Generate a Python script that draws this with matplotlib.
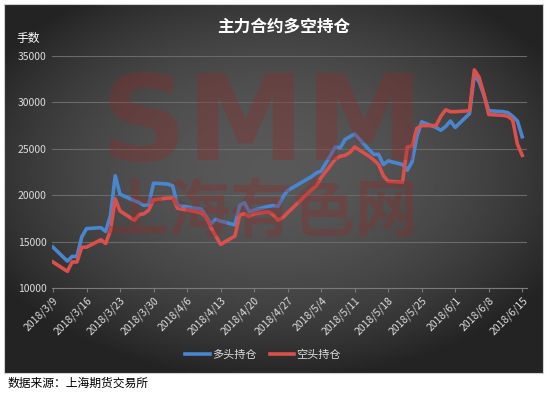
import numpy as np
import pandas as pd
import matplotlib
matplotlib.use("Agg")
import matplotlib.pyplot as plt

plt.rcParams['font.family'] = ['Noto Sans CJK SC', 'DejaVu Sans']

# trading days (2018)
dates = ["3/9", "3/12", "3/13", "3/14", "3/15", "3/16", "3/19", "3/20", "3/21", "3/22", "3/23",
         "3/26", "3/27", "3/28", "3/29", "3/30", "4/2", "4/3", "4/4", "4/9", "4/10", "4/11",
         "4/12", "4/13", "4/16", "4/17", "4/18", "4/19", "4/20", "4/23", "4/24", "4/25", "4/26",
         "4/27", "5/2", "5/3", "5/4", "5/7", "5/8", "5/9", "5/10", "5/11", "5/14", "5/15",
         "5/16", "5/17", "5/18", "5/21", "5/22", "5/23", "5/24", "5/25", "5/28", "5/29", "5/30",
         "5/31", "6/1", "6/4", "6/5", "6/6", "6/7", "6/8", "6/11", "6/12", "6/13", "6/14", "6/15"]

long_pos = [14400, 12900, 13400, 13400, 15500, 16400, 16500, 16100, 17800, 22100, 20100,
            19400, 19200, 18900, 19000, 21300, 21200, 21000, 18900, 18500, 17700, 16900,
            17400, 17200, 16800, 18900, 19200, 18200, 18400, 18800, 18900, 18800, 19800,
            20500, 22000, 22400, 22600, 25200, 25100, 26000, 26300, 26600, 24900, 24400,
            24400, 23300, 23700, 23300, 22700, 23600, 26300, 27900, 27300, 27000, 27400,
            28000, 27300, 28800, 33000, 32200, 30800, 29100, 29000, 28900, 28500, 28000, 26300]

short_pos = [12800, 11800, 12800, 12800, 14400, 14400, 15200, 14800, 16200, 19600, 18300,
             17300, 17900, 18000, 18400, 19500, 19700, 19700, 18600, 18100, 17600, 16500,
             15600, 14700, 15600, 17900, 18000, 17700, 18000, 18200, 17900, 17300, 17600,
             18100, 20600, 21000, 21900, 23900, 24200, 24300, 24600, 25200, 24200, 23800,
             23300, 22100, 21500, 21400, 25200, 25300, 27200, 27500, 27500, 28500, 29200,
             29000, 29000, 29100, 33500, 32700, 30900, 28700, 28600, 28500, 28100, 25500, 24300]

tick_labels = ["2018/3/9", "2018/3/16", "2018/3/23", "2018/3/30", "2018/4/6", "2018/4/13",
               "2018/4/20", "2018/4/27", "2018/5/4", "2018/5/11", "2018/5/18", "2018/5/25",
               "2018/6/1", "2018/6/8", "2018/6/15"]

x = pd.to_datetime(["2018/" + d for d in dates])
ticks = pd.to_datetime(tick_labels)

fig = plt.figure(figsize=(5.5, 3.95), dpi=100)
fig.patch.set_facecolor("white")

# dark panel with radial gradient
bg = fig.add_axes([4 / 550, 22 / 395, 539 / 550, 369 / 395])
gx, gy = np.meshgrid(np.linspace(-1, 1, 300), np.linspace(-1, 1, 200))
r2 = (gx * 0.95) ** 2 + ((gy + 0.1) * 1.0) ** 2
grad = np.clip(88 - 40 * r2, 35, 90)
bg.imshow(grad, cmap="gray", vmin=0, vmax=255, aspect="auto", extent=[0, 1, 0, 1])
bg.set_xticks([])
bg.set_yticks([])
for s in bg.spines.values():
    s.set_color("#d0d0d0")
    s.set_linewidth(0.8)

ax = fig.add_axes([52 / 550, 107 / 395, 475 / 550, 232 / 395])
ax.set_facecolor("none")
ax.plot(x, long_pos, color="#4a86d0", lw=2.6, label="多头持仓", zorder=3)
ax.plot(x, short_pos, color="#dc4f4a", lw=2.6, label="空头持仓", zorder=3)

ax.set_ylim(10000, 35000)
ax.set_yticks(range(10000, 35001, 5000))
ax.set_xlim(ticks[0] - pd.Timedelta(hours=5), ticks[-1] + pd.Timedelta(hours=24))
ax.set_xticks(ticks)
ax.set_xticklabels(tick_labels, rotation=45, ha="right", rotation_mode="anchor")
ax.grid(axis="y", color="#6a6a6a", lw=0.8)
ax.set_axisbelow(True)
for s in ["top", "right", "left"]:
    ax.spines[s].set_visible(False)
ax.spines["bottom"].set_color("#7a7a7a")
ax.tick_params(axis="y", length=0, colors="#dcdcdc", labelsize=7.5, pad=4)
ax.tick_params(axis="x", length=3, color="#7a7a7a", colors="#dcdcdc", labelsize=7.5, pad=2)

# watermark
wm = (0.58, 0.16, 0.16)
fig.text(262 / 550, 1 - 127 / 395, "SMM", color=wm, alpha=0.32,
         fontsize=86, fontweight="heavy", family="DejaVu Sans", ha="center", va="center", zorder=5)
fig.text(262 / 550, 1 - 212 / 395, "上海有色网", color=wm, alpha=0.32,
         fontsize=45, fontweight="bold", ha="center", va="center", zorder=5)

fig.text(284 / 550, 1 - 27 / 395, "主力合约多空持仓", color="white", fontsize=12,
         fontweight="bold", ha="center", va="center")
fig.text(28 / 550, 1 - 38 / 395, "手数", color="white", fontsize=8.5, ha="center", va="center")

fig.legend(loc="center", bbox_to_anchor=(263 / 550, 1 - 355 / 395), ncol=2, frameon=False,
           fontsize=8, labelcolor="#dcdcdc", handlelength=2.2, handletextpad=0.2,
           columnspacing=1.2)

fig.text(8 / 550, 1 - 383 / 395, "数据来源：上海期货交易所", color="black", fontsize=8.5,
         ha="left", va="center")

fig.savefig("out.png", dpi=100, facecolor=fig.get_facecolor())
